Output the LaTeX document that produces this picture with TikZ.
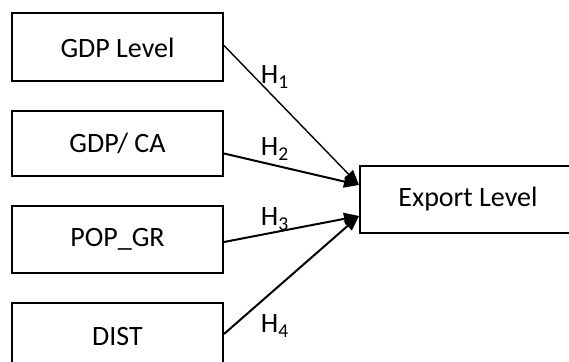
\documentclass[tikz,border=0pt]{standalone}
\usepackage{fontspec}
\setmainfont{Carlito}
\usetikzlibrary{arrows.meta}

\tikzset{
	varbox/.style={draw, line width=1pt, minimum width=105.5pt, inner sep=0pt, font=\fontsize{14}{16}\selectfont},
	hyp/.style={-{Triangle[length=7.5pt,width=6pt]}, line width=1pt},
	hlabel/.style={inner sep=0pt, font=\fontsize{14}{16}\selectfont}
}

\begin{document}
\begin{tikzpicture}[x=0.5pt,y=-0.5pt]
	\path[use as bounding box] (0,0) rectangle (569,362);
	\clip (0,0) rectangle (569,362);
	% independent variables
	\node[varbox, minimum height=34pt] (gdp) at (117.5,47.5) {GDP Level};
	\node[varbox, minimum height=32.5pt] (gdpca) at (117.5,143.5) {GDP/ CA};
	\node[varbox, minimum height=33.5pt] (pop) at (117.5,239.5) {POP\_GR};
	\node[varbox, minimum height=33.5pt] (dist) at (117.5,337) {DIST};
	
	% dependent variable
	\node[varbox, minimum width=108pt, minimum height=33.5pt] (exp) at (468,199.5) {Export Level};
	
	% hypotheses
	\draw[hyp, line width=0.7pt] ([yshift=1pt]gdp.east) -- ([yshift=7.25pt]exp.west);
	\draw[hyp] ([yshift=-5pt]gdpca.east) -- ([yshift=7.25pt]exp.west);
	\draw[hyp] ([yshift=-1.25pt]pop.east) -- ([yshift=-8.25pt]exp.west);
	\draw[hyp] ([yshift=1.5pt]dist.east) -- ([yshift=-8.25pt]exp.west);
	
	\node[hlabel] (h1) at (275,77) {H\textsubscript{1}};
	\node[hlabel] (h2) at (275,149) {H\textsubscript{2}};
	\node[hlabel] (h3) at (275,219) {H\textsubscript{3}};
	\node[hlabel] (h4) at (275,326) {H\textsubscript{4}};
\end{tikzpicture}
\end{document}
